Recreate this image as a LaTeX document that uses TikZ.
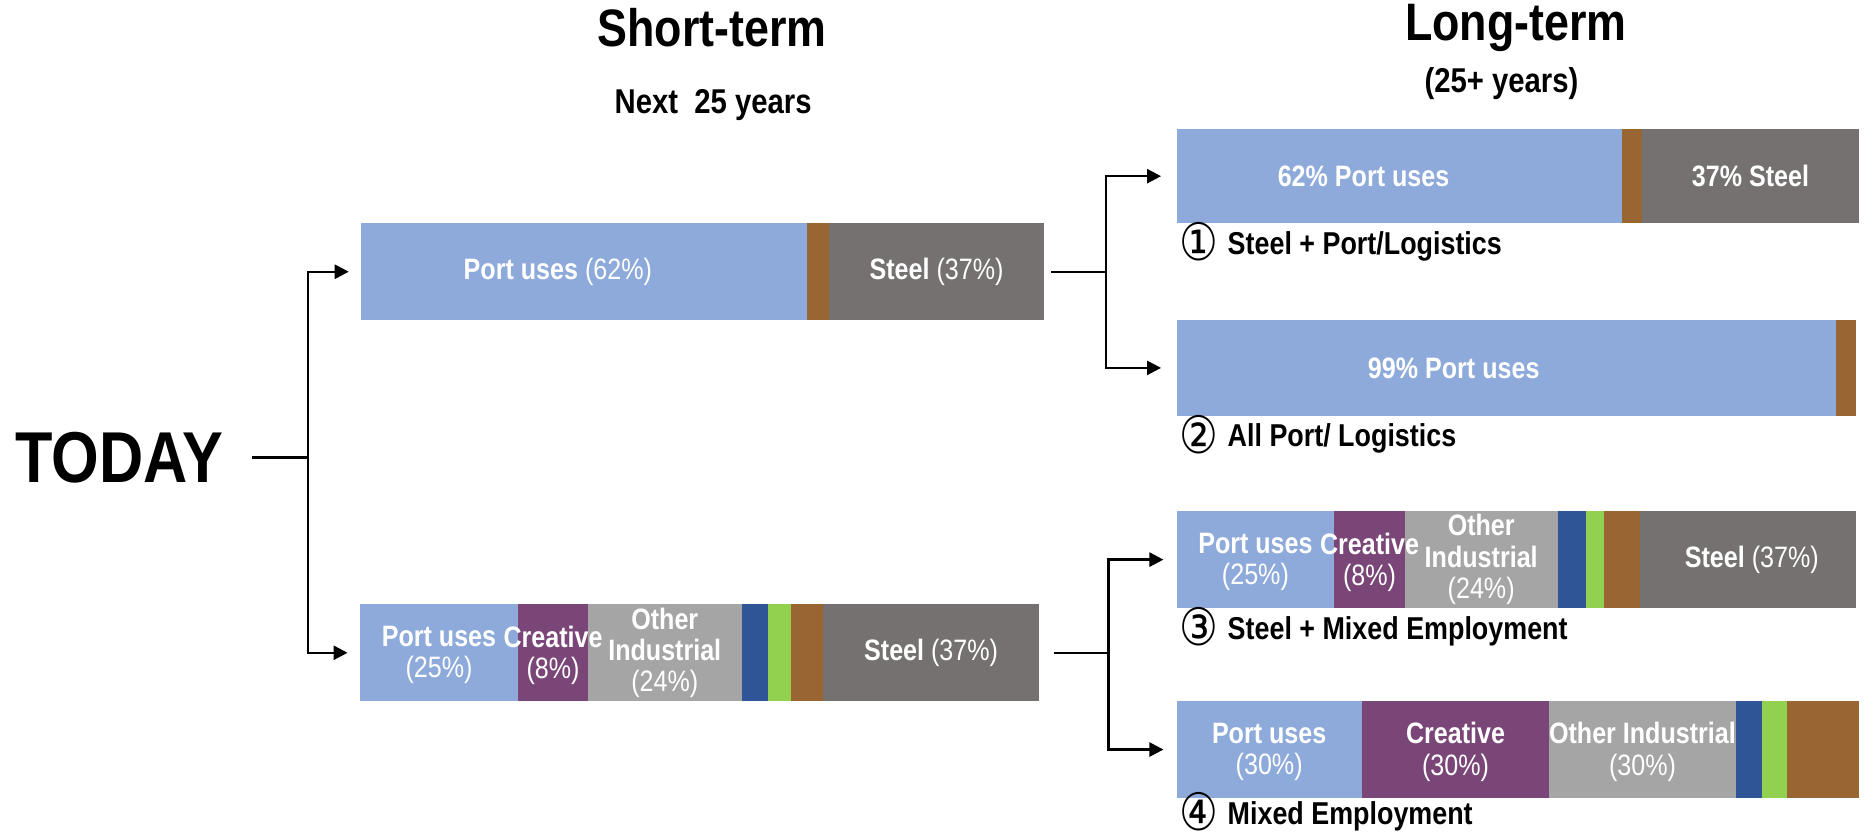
\documentclass[tikz,border=0pt]{standalone}
\usepackage{fontspec}
\setmainfont[FakeStretch=0.85]{Liberation Sans}
\newfontfamily\circfont{DejaVu Sans}
\usepackage{tikz}
\usetikzlibrary{
  arrows.meta,
  positioning,
}

\definecolor{portblue}{HTML}{8EAADB}
\definecolor{steelgray}{HTML}{767171}
\definecolor{rustbrown}{HTML}{996633}
\definecolor{creativepurple}{HTML}{7A4577}
\definecolor{industrygray}{HTML}{A5A5A5}
\definecolor{navyseg}{HTML}{2F5597}
\definecolor{limeseg}{HTML}{92D050}

\newlength{\px}
\setlength{\px}{0.011945cm}
\newcommand{\circno}[1]{\raisebox{-1.8pt}{\scalebox{0.88}[1.05]{\circfont\mdseries\fontsize{14}{14}\selectfont #1}}\hspace{0.5pt}}

\begin{document}
\begin{tikzpicture}[
  x=0.011945cm, y=-0.011945cm,
  >={Triangle[length=4pt,width=4pt]},
  seg/.style={
    minimum height=81\px, inner sep=0pt, outer sep=0pt,
  },
  segtext/.style={
    text=white, align=center, inner sep=0pt,
    font=\fontsize{8.4}{8.9}\selectfont,
  },
  caption/.style={font=\fontsize{9}{11}\selectfont\bfseries, inner sep=0pt, anchor=base west},
  heading/.style={font=\fontsize{15}{18}\selectfont\bfseries},
  subheading/.style={font=\fontsize{9.8}{12}\selectfont\bfseries},
  link/.style={line width=0.7pt},
  arr/.style={->, line width=0.7pt},
]
\useasboundingbox (0,0) rectangle (1568,702);

% ── Headings ────────────────────────────────────────────────────────
\node[heading] (shortttl) at (596,23) {Short-term};
\node[subheading] (shortsub) at (597,88) {Next\ \ 25 years};
\node[heading] (longttl) at (1269,23) {Long-term};
\node[subheading] (longsub) at (1257,70) {(25+ years)};

\node[font=\fontsize{20.5}{24}\selectfont\bfseries] (today) at (100,383) {TODAY};

% ── Short-term A: port + steel ──────────────────────────────────────
\node[seg, anchor=west, fill=portblue, minimum width=374\px] (stAport) at (302,227.5) {};
\node[seg, right=0pt of stAport, fill=rustbrown, minimum width=18\px] (stAbrown) {};
\node[seg, right=0pt of stAbrown, fill=steelgray, minimum width=180\px] (stAsteel) {};
\node[segtext] (stAporttxt) at ([xshift=-22\px]stAport.center) {\textbf{Port uses} (62\%)};
\node[segtext] (stAsteeltxt) at (stAsteel.center) {\textbf{Steel} (37\%)};

% ── Short-term B: steel + mixed ─────────────────────────────────────
\node[seg, anchor=west, fill=portblue, minimum width=133\px] (stBport) at (301,546.5) {};
\node[seg, right=0pt of stBport, fill=creativepurple, minimum width=58\px] (stBcreative) {};
\node[seg, right=0pt of stBcreative, fill=industrygray, minimum width=129\px] (stBother) {};
\node[seg, right=0pt of stBother, fill=navyseg, minimum width=22\px] (stBnavy) {};
\node[seg, right=0pt of stBnavy, fill=limeseg, minimum width=19\px] (stBlime) {};
\node[seg, right=0pt of stBlime, fill=rustbrown, minimum width=27\px] (stBbrown) {};
\node[seg, right=0pt of stBbrown, fill=steelgray, minimum width=181\px] (stBsteel) {};
\node[segtext] (stBporttxt) at ([yshift=-2\px]stBport.center) {\textbf{Port uses}\\(25\%)};
\node[segtext] (stBcreativetxt) at ([yshift=-2\px]stBcreative.center) {\textbf{Creative}\\(8\%)};
\node[segtext] (stBothertxt) at (stBother.center) {\textbf{Other}\\\textbf{Industrial}\\(24\%)};
\node[segtext] (stBsteeltxt) at (stBsteel.center) {\textbf{Steel} (37\%)};

% ── Long-term 1 ─────────────────────────────────────────────────────
\node[seg, anchor=west, fill=portblue, minimum width=373\px, minimum height=79\px] (ltAport) at (985,147.5) {};
\node[seg, right=0pt of ltAport, fill=rustbrown, minimum width=17\px, minimum height=79\px] (ltAbrown) {};
\node[seg, right=0pt of ltAbrown, fill=steelgray, minimum width=181\px, minimum height=79\px] (ltAsteel) {};
\node[segtext] (ltAporttxt) at ([xshift=-30\px]ltAport.center) {\textbf{62\% Port uses}};
\node[segtext] (ltAsteeltxt) at (ltAsteel.center) {\textbf{37\% Steel}};
\node[caption] (ltAcap) at ([xshift=2\px, yshift=-26\px]ltAport.south west)
  {\circno{①} Steel + Port/Logistics};

% ── Long-term 2 ─────────────────────────────────────────────────────
\node[seg, anchor=west, fill=portblue, minimum width=552\px, minimum height=80\px] (ltBport) at (985,308) {};
\node[seg, right=0pt of ltBport, fill=rustbrown, minimum width=17\px, minimum height=80\px] (ltBbrown) {};
\node[segtext] (ltBporttxt) at ([xshift=-44\px]ltBport.center) {\textbf{99\% Port uses}};
\node[caption] (ltBcap) at ([xshift=2\px, yshift=-26\px]ltBport.south west)
  {\circno{②} All Port/ Logistics};

% ── Long-term 3 ─────────────────────────────────────────────────────
\node[seg, anchor=west, fill=portblue, minimum width=132\px] (ltCport) at (985,468.5) {};
\node[seg, right=0pt of ltCport, fill=creativepurple, minimum width=59\px] (ltCcreative) {};
\node[seg, right=0pt of ltCcreative, fill=industrygray, minimum width=128\px] (ltCother) {};
\node[seg, right=0pt of ltCother, fill=navyseg, minimum width=24\px] (ltCnavy) {};
\node[seg, right=0pt of ltCnavy, fill=limeseg, minimum width=15\px] (ltClime) {};
\node[seg, right=0pt of ltClime, fill=rustbrown, minimum width=30\px] (ltCbrown) {};
\node[seg, right=0pt of ltCbrown, fill=steelgray, minimum width=181\px] (ltCsteel) {};
\node[segtext] (ltCporttxt) at ([yshift=-2\px]ltCport.center) {\textbf{Port uses}\\(25\%)};
\node[segtext] (ltCcreativetxt) at ([yshift=-2\px]ltCcreative.center) {\textbf{Creative}\\(8\%)};
\node[segtext] (ltCothertxt) at (ltCother.center) {\textbf{Other}\\\textbf{Industrial}\\(24\%)};
\node[segtext] (ltCsteeltxt) at ([xshift=3\px]ltCsteel.center) {\textbf{Steel} (37\%)};
\node[caption] (ltCcap) at ([xshift=2\px, yshift=-26\px]ltCport.south west)
  {\circno{③} Steel + Mixed Employment};

% ── Long-term 4 ─────────────────────────────────────────────────────
\node[seg, anchor=west, fill=portblue, minimum width=155\px] (ltDport) at (985,627.5) {};
\node[seg, right=0pt of ltDport, fill=creativepurple, minimum width=157\px] (ltDcreative) {};
\node[seg, right=0pt of ltDcreative, fill=industrygray, minimum width=156\px] (ltDother) {};
\node[seg, right=0pt of ltDother, fill=navyseg, minimum width=22\px] (ltDnavy) {};
\node[seg, right=0pt of ltDnavy, fill=limeseg, minimum width=21\px] (ltDlime) {};
\node[seg, right=0pt of ltDlime, fill=rustbrown, minimum width=60\px] (ltDbrown) {};
\node[segtext] (ltDporttxt) at ([yshift=-2\px]ltDport.center) {\textbf{Port uses}\\(30\%)};
\node[segtext] (ltDcreativetxt) at ([yshift=-2\px]ltDcreative.center) {\textbf{Creative}\\(30\%)};
\node[segtext] (ltDothertxt) at ([yshift=-2\px]ltDother.center) {\textbf{Other Industrial}\\(30\%)};
\node[caption] (ltDcap) at ([xshift=2\px, yshift=-22\px]ltDport.south west)
  {\circno{④} Mixed Employment};

% ── Connections ─────────────────────────────────────────────────────
\coordinate (forkT) at (258,383);
\draw[link] ([xshift=14\px]today.east) -- (forkT);
\draw[arr] (forkT) |- ([xshift=-10\px]stAport.west);
\draw[arr] (forkT) |- ([xshift=-10\px]stBport.west);

\coordinate (forkA) at ([xshift=52\px]stAsteel.east);
\draw[link] ([xshift=6\px]stAsteel.east) -- (forkA);
\draw[arr] (forkA) |- ([xshift=-13\px]ltAport.west);
\draw[arr] (forkA) |- ([xshift=-13\px]ltBport.west);

\coordinate (forkB) at ([xshift=58\px]stBsteel.east);
\draw[link] ([xshift=12\px]stBsteel.east) -- (forkB);
\draw[arr] (forkB) |- ([xshift=-11\px]ltCport.west);
\draw[arr] (forkB) |- ([xshift=-11\px]ltDport.west);

\end{tikzpicture}
\end{document}
